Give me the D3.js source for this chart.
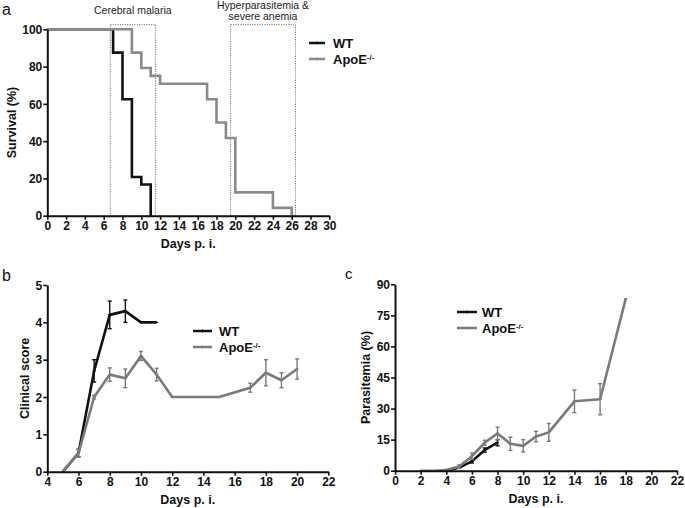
<!DOCTYPE html>
<html><head><meta charset="utf-8">
<script src="https://cdn.jsdelivr.net/npm/d3@7"></script>
<style>
html,body{margin:0;padding:0;background:#fff;}
svg text{font-family:"Liberation Sans",Arial,sans-serif;}
.tick text{font-weight:bold;font-size:12px;fill:#111;}
</style>
</head><body>
<svg id="chart" width="685" height="508"></svg>
<script>
// ---------- DATA ----------
// Panel a: survival (Kaplan-Meier steps)
const survDaysWT = [0, 7, 8, 9, 10, 11];
const survWT = [100, 87.5, 62.5, 20.8, 16.7, 0];
const survDaysApoE = [0, 9, 10, 11, 12, 17, 18, 19, 20, 24, 26];
const survApoE = [100, 87.5, 79.2, 75, 70.8, 62.5, 50, 41.7, 12.5, 4.2, 0];
const survXTicks = d3.range(0, 31, 2);
const survYTicks = [0, 20, 40, 60, 80, 100];
const boxLabels = [["Cerebral malaria"], ["Hyperparasitemia &", "severe anemia"]];
const boxStart = [6.7, 19.5];
const boxEnd = [11.5, 26.4];

// Panel b: clinical score
const clinDaysWT = [5, 6, 7, 8, 9, 10, 11];
const clinWT = [0, 0.5, 2.7, 4.2, 4.3, 4.0, 4.0];
const clinErrWT = [0, 0.1, 0.3, 0.37, 0.3, 0, 0];
const clinDaysApoE = [5, 6, 7, 8, 9, 10, 11, 12, 13, 14, 15, 17, 18, 19, 20];
const clinApoE = [0, 0.5, 2.0, 2.6, 2.5, 3.1, 2.6, 2.0, 2.0, 2.0, 2.0, 2.25, 2.65, 2.45, 2.75];
const clinErrApoE = [0, 0.1, 0.05, 0.18, 0.25, 0.12, 0.17, 0, 0, 0, 0, 0.12, 0.35, 0.2, 0.27];
const clinXTicks = d3.range(4, 23, 2);
const clinYTicks = [0, 1, 2, 3, 4, 5];

// Panel c: parasitemia
const paraDaysWT = [4, 5, 6, 7, 8];
const paraWT = [0, 1.5, 4.5, 10, 13.5];
const paraErrWT = [0, 0.4, 0.8, 1.0, 1.5];
const paraDaysApoE = [2, 3, 4, 5, 6, 7, 8, 9, 10, 11, 12, 14, 16, 18];
const paraApoE = [0, 0, 0.3, 2, 7, 13.5, 18, 13, 12, 16.5, 18.5, 33.5, 34.5, 83];
const paraErrApoE = [0, 0, 0.3, 0.8, 1.5, 1.2, 3, 3.2, 3, 2.5, 4.3, 5.5, 7.5, 0];
const paraXTicks = d3.range(0, 23, 2);
const paraYTicks = [0, 15, 30, 45, 60, 75, 90];

const seriesNames = ["WT", "ApoE"];
const xTitle = "Days p. i.";

// ---------- STYLE ----------
const BLACK = "#111";
const GRAY_A = "#8a8a8a";
const GRAY_B = "#7a7a7a";
const svg = d3.select("#chart");

function axes(g, x, y, xt, yt, xLabel, yLabel, yLabelX) {
  const ax = d3.axisBottom(x).tickValues(xt).tickFormat(d3.format("d")).tickSize(4).tickSizeOuter(0).tickPadding(2);
  const ay = d3.axisLeft(y).tickValues(yt).tickFormat(d3.format("d")).tickSize(4).tickSizeOuter(0).tickPadding(1);
  const gx = g.append("g").attr("transform", `translate(0,${y.range()[0]})`).call(ax);
  const gy = g.append("g").attr("transform", `translate(${x.range()[0]},0)`).call(ay);
  [gx, gy].forEach(a => {
    a.attr("font-family", null).attr("font-size", null);
    a.select(".domain").attr("stroke", BLACK).attr("stroke-width", 2);
    a.selectAll(".tick line").attr("stroke", BLACK).attr("stroke-width", 1.6);
    a.selectAll(".tick text").attr("fill", BLACK);
  });
  gy.selectAll(".tick text").attr("dy", "0.35em");
  const xm = (x.range()[0] + x.range()[1]) / 2;
  g.append("text").attr("x", xm).attr("y", y.range()[0] + 32).attr("text-anchor", "middle")
    .attr("font-size", 12.5).attr("font-weight", "bold").attr("fill", BLACK).text(xLabel);
  const ym = (y.range()[0] + y.range()[1]) / 2;
  g.append("text").attr("transform", `translate(${yLabelX},${ym}) rotate(-90)`).attr("text-anchor", "middle")
    .attr("dy", "0.35em").attr("font-size", 12.5).attr("font-weight", "bold").attr("fill", BLACK).text(yLabel);
}

function legend(g, x0, x1, ys, colors, tx) {
  seriesNames.forEach((n, i) => {
    g.append("line").attr("x1", x0).attr("x2", x1).attr("y1", ys[i]).attr("y2", ys[i])
      .attr("stroke", colors[i]).attr("stroke-width", 2.5);
    g.append("line").attr("x1", (x0 + x1) / 2).attr("x2", (x0 + x1) / 2).attr("y1", ys[i] - 1.5).attr("y2", ys[i] + 1.5)
      .attr("stroke", colors[i]).attr("stroke-width", 1);
    const t = g.append("text").attr("x", tx).attr("y", ys[i]).attr("dy", "0.38em")
      .attr("font-size", 13).attr("font-weight", "bold").attr("fill", BLACK);
    if (n === "ApoE") {
      t.append("tspan").text("ApoE");
      t.append("tspan").attr("font-size", 8).attr("dy", "-0.55em").text("-/-");
    } else t.text(n);
  });
}

function errSeries(g, x, y, days, vals, errs, color, lw) {
  const pts = days.map((d, i) => ({d, v: vals[i], e: errs[i]}));
  g.append("path").datum(pts).attr("fill", "none").attr("stroke", color).attr("stroke-width", lw)
    .attr("stroke-linejoin", "round")
    .attr("d", d3.line().x(p => x(p.d)).y(p => y(p.v)));
  const eb = g.append("g").attr("stroke", color).attr("stroke-width", 1.4);
  pts.filter(p => p.e > 0).forEach(p => {
    const cx = x(p.d);
    eb.append("line").attr("x1", cx).attr("x2", cx).attr("y1", y(p.v - p.e)).attr("y2", y(p.v + p.e));
    eb.append("line").attr("x1", cx - 2).attr("x2", cx + 2).attr("y1", y(p.v - p.e)).attr("y2", y(p.v - p.e));
    eb.append("line").attr("x1", cx - 2).attr("x2", cx + 2).attr("y1", y(p.v + p.e)).attr("y2", y(p.v + p.e));
  });
  pts.forEach(p => {
    eb.append("line").attr("x1", x(p.d) - 1.5).attr("x2", x(p.d) + 1.5).attr("y1", y(p.v)).attr("y2", y(p.v));
  });
}

// ---------- PANEL A ----------
{
  const g = svg.append("g");
  const x = d3.scaleLinear().domain([0, 30]).range([47.3, 329.3]);
  const y = d3.scaleLinear().domain([0, 100]).range([215.7, 29.3]);
  boxStart.forEach((s, i) => {
    g.append("rect").attr("x", x(s)).attr("y", y(102.5)).attr("width", x(boxEnd[i]) - x(s))
      .attr("height", y(0) - y(102.5)).attr("fill", "none").attr("stroke", "#777")
      .attr("stroke-width", 1).attr("stroke-dasharray", "1.2,1.2");
    const cx = (x(s) + x(boxEnd[i])) / 2;
    const lines = boxLabels[i];
    const base = lines.length === 1 ? 13.5 : 9;
    lines.forEach((l, j) => g.append("text").attr("x", cx).attr("y", base + j * 11).attr("text-anchor", "middle")
      .attr("font-size", 10.5).attr("fill", "#222").text(l));
  });
  const step = d3.line().curve(d3.curveStepAfter).x(p => x(p[0])).y(p => y(p[1]));
  g.append("path").datum(survDaysWT.map((d, i) => [d, survWT[i]])).attr("fill", "none")
    .attr("stroke", BLACK).attr("stroke-width", 2.6).attr("d", step);
  g.append("path").datum(survDaysApoE.map((d, i) => [d, survApoE[i]])).attr("fill", "none")
    .attr("stroke", GRAY_A).attr("stroke-width", 2.6).attr("d", step);
  axes(g, x, y, survXTicks, survYTicks, xTitle, "Survival (%)", 12);
  legend(g, 309, 325, [43, 59], [BLACK, GRAY_A], 333);
  g.append("text").attr("x", 2).attr("y", 15).attr("font-size", 16).attr("fill", BLACK).text("a");
}

// ---------- PANEL B ----------
{
  const g = svg.append("g");
  const x = d3.scaleLinear().domain([4, 22]).range([47.3, 328.3]);
  const y = d3.scaleLinear().domain([0, 5]).range([471.7, 285]);
  errSeries(g, x, y, clinDaysWT, clinWT, clinErrWT, BLACK, 2.6);
  errSeries(g, x, y, clinDaysApoE, clinApoE, clinErrApoE, GRAY_B, 2.6);
  axes(g, x, y, clinXTicks, clinYTicks, xTitle, "Clinical score", 25);
  legend(g, 193, 212, [331, 347], [BLACK, GRAY_B], 219);
  g.append("text").attr("x", 2).attr("y", 281).attr("font-size", 16).attr("fill", BLACK).text("b");
}

// ---------- PANEL C ----------
{
  const g = svg.append("g");
  const x = d3.scaleLinear().domain([0, 22]).range([395, 677]);
  const y = d3.scaleLinear().domain([0, 90]).range([470.7, 284.3]);
  errSeries(g, x, y, paraDaysWT, paraWT, paraErrWT, BLACK, 2.6);
  errSeries(g, x, y, paraDaysApoE, paraApoE, paraErrApoE, GRAY_B, 2.6);
  axes(g, x, y, paraXTicks, paraYTicks, xTitle, "Parasitemia (%)", 366);
  legend(g, 457, 477, [312, 328], [BLACK, GRAY_B], 482);
  g.append("text").attr("x", 345).attr("y", 279).attr("font-size", 15).attr("fill", BLACK).text("c");
}
</script>
</body></html>
